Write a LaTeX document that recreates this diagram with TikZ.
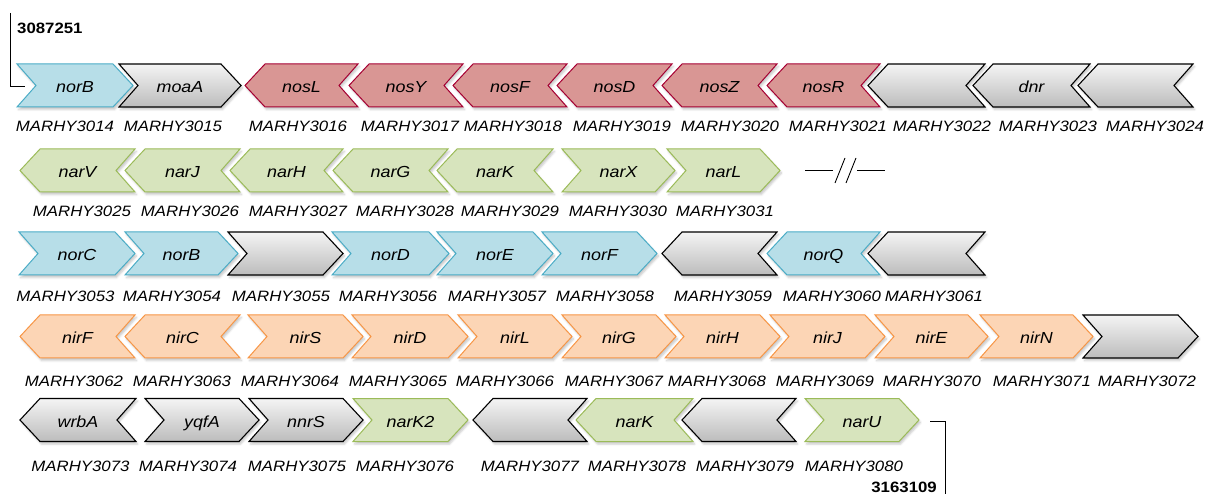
\documentclass[tikz,border=0pt]{standalone}
\usepackage{fontspec}
\setmainfont{Liberation Sans}[FakeStretch=1.12]
\usetikzlibrary{shadows.blur}
\definecolor{bfill}{RGB}{183,222,232}
\definecolor{bline}{RGB}{75,172,198}
\definecolor{rfill}{RGB}{217,150,148}
\definecolor{rline}{RGB}{165,0,50}
\definecolor{gfill}{RGB}{215,228,189}
\definecolor{gline}{RGB}{155,187,89}
\definecolor{ofill}{RGB}{252,213,181}
\definecolor{oline}{RGB}{247,150,70}
\definecolor{graytop}{RGB}{244,244,244}
\definecolor{graybot}{RGB}{188,188,188}
\tikzset{
  gshadow/.style={blur shadow={shadow xshift=1.5pt, shadow yshift=-2.5pt, shadow blur radius=2pt, shadow opacity=22}},
  blueg/.style={fill=bfill, draw=bline, line width=1pt, gshadow},
  redg/.style={fill=rfill, draw=rline, line width=1pt, gshadow},
  greeng/.style={fill=gfill, draw=gline, line width=1pt, gshadow},
  orangeg/.style={fill=ofill, draw=oline, line width=1pt, gshadow},
  grayg/.style={top color=graytop, bottom color=graybot, draw=black, line width=1.1pt, gshadow},
  gname/.style={anchor=base, inner sep=0pt, font=\fontsize{16}{19}\selectfont\itshape},
  lab/.style={anchor=base, inner sep=0pt, font=\fontsize{15}{18}\selectfont\itshape},
  coord/.style={inner sep=0pt, font=\fontsize{15}{18}\selectfont\bfseries},
  rule/.style={line width=0.9pt, draw=black}
}
% right-pointing gene: id, left x, tip x, centre y, style, name, label x, label baseline
\newcommand{\gR}[8]{%
  \path[#5] (#2,#4-21.5) -- (#3-20,#4-21.5) -- (#3,#4) -- (#3-20,#4+21.5) -- (#2,#4+21.5) -- (#2+19,#4) -- cycle;
  \node[gname] (g#1) at ({(#2+#3)/2},#4+7) {#6};
  \node[lab] (m#1) at (#7,#8) {MARHY#1};
}
% left-pointing gene
\newcommand{\gL}[8]{%
  \path[#5] (#2,#4) -- (#2+20,#4-21.5) -- (#3,#4-21.5) -- (#3-19,#4) -- (#3,#4+21.5) -- (#2+20,#4+21.5) -- cycle;
  \node[gname] (g#1) at ({(#2+#3)/2},#4+7) {#6};
  \node[lab] (m#1) at (#7,#8) {MARHY#1};
}
\begin{document}
\begin{tikzpicture}[x=1pt,y=-1pt]
\useasboundingbox (0,0) rectangle (1208,494);
% row 1
\gR{3014}{17}{133}{85.5}{blueg}{norB}{65}{132}
\gR{3015}{119}{241}{85.5}{grayg}{moaA}{173}{132}
\gL{3016}{245}{358}{85.5}{redg}{nosL}{298}{132}
\gL{3017}{349}{463}{85.5}{redg}{nosY}{410}{132}
\gL{3018}{453}{567}{85.5}{redg}{nosF}{513}{132}
\gL{3019}{557}{672}{85.5}{redg}{nosD}{622}{132}
\gL{3020}{662}{777}{85.5}{redg}{nosZ}{730}{132}
\gL{3021}{767}{880}{85.5}{redg}{nosR}{838}{132}
\gL{3022}{868}{985}{85.5}{grayg}{}{942}{132}
\gL{3023}{973}{1090}{85.5}{grayg}{dnr}{1048}{132}
\gL{3024}{1078}{1193}{85.5}{grayg}{}{1155}{132}
% row 2
\gL{3025}{20}{135}{170.5}{greeng}{narV}{82}{217}
\gL{3026}{125}{240}{170.5}{greeng}{narJ}{190}{217}
\gL{3027}{230}{343}{170.5}{greeng}{narH}{298}{217}
\gL{3028}{333}{448}{170.5}{greeng}{narG}{405}{217}
\gL{3029}{437}{553}{170.5}{greeng}{narK}{510}{217}
\gR{3030}{562}{675}{170.5}{greeng}{narX}{618}{217}
\gR{3031}{667}{780}{170.5}{greeng}{narL}{725}{217}
% break mark
\coordinate (b1) at (805,170);
\coordinate (b2) at (833,170);
\coordinate (b3) at (857,170);
\coordinate (b4) at (885,170);
\draw[rule] (b1) -- (b2);
\draw[rule] (b3) -- (b4);
\draw[rule] (835,183) -- (845,158);
\draw[rule] (846,183) -- (856,158);
% row 3
\gR{3053}{19}{135}{253.5}{blueg}{norC}{65.5}{302}
\gR{3054}{125}{238}{253.5}{blueg}{norB}{172}{302}
\gR{3055}{228}{343}{253.5}{grayg}{}{281}{302}
\gR{3056}{332}{449}{253.5}{blueg}{norD}{388}{302}
\gR{3057}{437}{553}{253.5}{blueg}{norE}{497}{302}
\gR{3058}{542}{657}{253.5}{blueg}{norF}{605}{302}
\gL{3059}{662}{777}{253.5}{grayg}{}{723}{302}
\gL{3060}{767}{880}{253.5}{blueg}{norQ}{832}{302}
\gL{3061}{868}{985}{253.5}{grayg}{}{934}{302}
% row 4
\gL{3062}{20}{135}{336.5}{orangeg}{nirF}{74}{386}
\gL{3063}{125}{240}{336.5}{orangeg}{nirC}{182}{386}
\gR{3064}{248}{363}{336.5}{orangeg}{nirS}{290}{386}
\gR{3065}{352}{468}{336.5}{orangeg}{nirD}{398}{386}
\gR{3066}{458}{572}{336.5}{orangeg}{nirL}{505}{386}
\gR{3067}{562}{676}{336.5}{orangeg}{nirG}{614}{386}
\gR{3068}{665}{780}{336.5}{orangeg}{nirH}{717}{386}
\gR{3069}{770}{885}{336.5}{orangeg}{nirJ}{825}{386}
\gR{3070}{875}{988}{336.5}{orangeg}{nirE}{932}{386}
\gR{3071}{980}{1093}{336.5}{orangeg}{nirN}{1042}{386}
\gR{3072}{1083}{1198}{336.5}{grayg}{}{1147}{386}
% row 5
\gL{3073}{20}{136}{420}{grayg}{wrbA}{80.5}{471.5}
\gR{3074}{145}{259}{420}{grayg}{yqfA}{188}{471.5}
\gR{3075}{249}{363}{420}{grayg}{nnrS}{297}{471.5}
\gR{3076}{353}{468}{420}{greeng}{narK2}{405}{471.5}
\gL{3077}{473}{587}{420}{grayg}{}{530}{471.5}
\gL{3078}{576}{693}{420}{greeng}{narK}{637}{471.5}
\gL{3079}{682}{796}{420}{grayg}{}{745}{471.5}
\gR{3080}{805}{919}{420}{greeng}{narU}{854}{471.5}
% start / end coordinates
\node[coord, anchor=base west] (start) at (17,33.3) {3087251};
\coordinate (s1) at (10,13);
\coordinate (s2) at (10,86);
\coordinate (s3) at (25,86);
\draw[rule] (s1) -- (s2) -- (s3);
\node[coord, anchor=base east] (end) at (937,492.5) {3163109};
\coordinate (e1) at (930,421);
\coordinate (e2) at (945,421);
\coordinate (e3) at (945,494);
\draw[rule] (e1) -- (e2) -- (e3);
\end{tikzpicture}
\end{document}
